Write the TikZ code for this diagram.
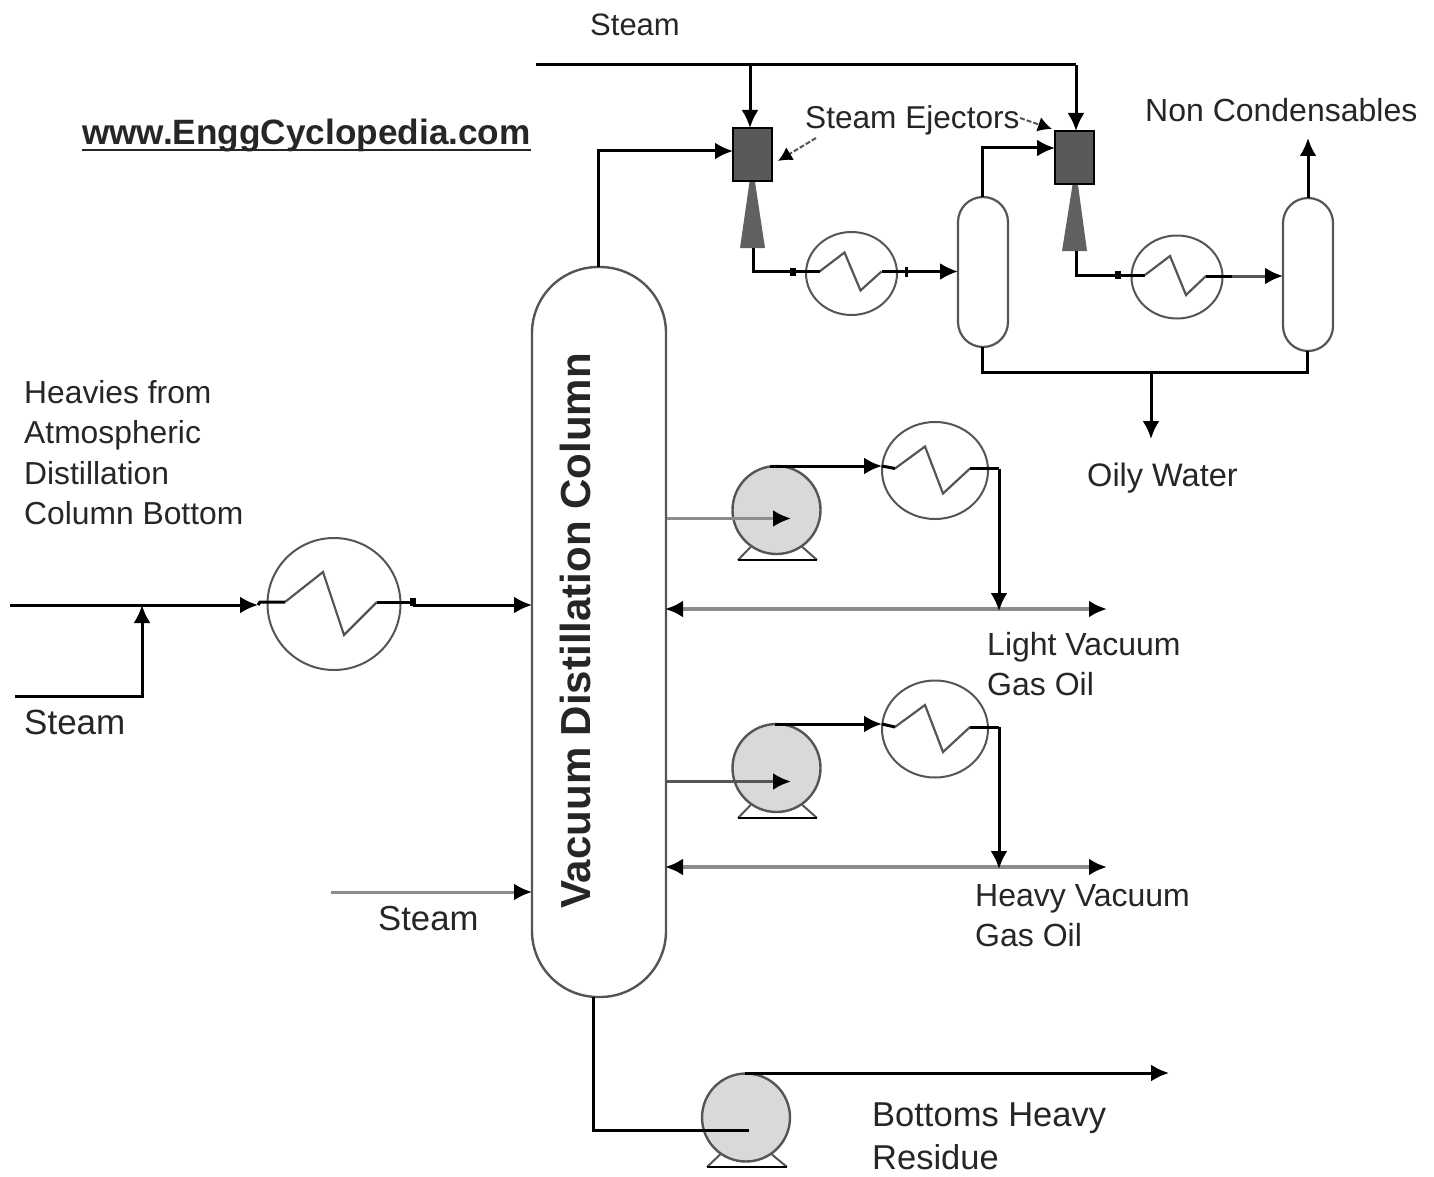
\documentclass[tikz,border=0pt]{standalone}
\usepackage{fontspec}
\setmainfont{Liberation Sans}
\usetikzlibrary{arrows.meta,shapes.geometric}
\definecolor{ink}{HTML}{262626}
\definecolor{edge}{HTML}{555555}
\definecolor{shaft}{HTML}{8C8C8C}
\tikzset{
  x=1pt,y=-1pt,
  flow/.style={line width=3pt,draw=black,line join=miter},
  tip/.style={flow,-{Latex[length=18pt,width=17pt]}},
  greyflow/.style={tip,draw=shaft,{-{Latex[length=18pt,width=17pt,color=black]}}},
  edgeflow/.style={tip,draw=edge,{-{Latex[length=18pt,width=17pt,color=black]}}},
  twoway/.style={line width=3.6pt,draw=shaft,{Latex[length=18pt,width=17pt,color=black]}-{Latex[length=18pt,width=17pt,color=black]}},
  vessel/.style={draw=edge,line width=2.2pt,fill=white,rectangle,inner sep=0pt,minimum width=50pt,rounded corners=25pt},
  column/.style={draw=edge,line width=2.4pt,fill=white,rectangle,inner sep=0pt,minimum width=134pt,minimum height=730pt,rounded corners=66pt},
  hx/.style={draw=edge,line width=2pt,fill=white,ellipse,inner sep=0pt},
  zig/.style={draw=edge,line width=2.2pt,line join=miter},
  pump/.style={draw=edge,line width=2.4pt,fill=black!15,circle,inner sep=0pt,minimum size=88pt},
  ejector/.style={draw=black,line width=2.4pt,fill=black!65,rectangle,inner sep=0pt,minimum width=39pt,minimum height=53pt},
  nozzle/.style={draw=none,fill=black!62},
  base/.style={line width=2.6pt,draw=black},
  leg/.style={line width=2pt,draw=edge},
  port/.style={fill=black,rectangle,inner sep=0pt,minimum width=6pt,minimum height=8pt},
  pointer/.style={line width=2pt,draw=edge,dash pattern=on 5pt off 2pt,-{Latex[length=14pt,width=15pt,color=black]}},
  label/.style={font=\fontsize{32}{37}\selectfont,text=ink,inner sep=0pt,anchor=west,align=left},
  small/.style={label,anchor=north west,font=\fontsize{32}{40}\selectfont},
}
\begin{document}
\begin{tikzpicture}
\useasboundingbox (0,0) rectangle (1434,1177);
\fill[white] (0,0) rectangle (1434,1177);

% Main equipment
\node[column] (col) at (599,632) {};
\node[font=\bfseries\fontsize{42}{44}\selectfont,text=ink,rotate=90,inner sep=0pt] (collabel) at (575,631) {Vacuum Distillation Column};

\node[hx,minimum width=133pt,minimum height=132pt] (hxfeed) at (334,604) {};
\node[hx,minimum width=91pt,minimum height=83pt] (hxa) at (851.5,273.5) {};
\node[hx,minimum width=91pt,minimum height=83pt] (hxb) at (1177,277) {};
\node[hx,minimum width=106pt,minimum height=97pt] (hxc) at (935,470.5) {};
\node[hx,minimum width=106pt,minimum height=97pt] (hxd) at (935,729) {};

\node[vessel,minimum height=150pt] (va) at (983,272) {};
\node[vessel,minimum height=153pt] (vb) at (1308,274.5) {};

\node[ejector] (eja) at (752.5,154.5) {};
\node[ejector] (ejb) at (1074.5,157.5) {};
\node[pump] (pa) at (776.5,510) {};
\node[pump] (pb) at (776.5,768) {};
\node[pump] (pc) at (746,1117.5) {};

% Nozzles
\fill[nozzle] (749.5,182) -- (755,182) -- (765,248) -- (740,248) -- cycle;
\fill[nozzle] (1072.5,185) -- (1078,185) -- (1087,251) -- (1062,251) -- cycle;

% Exchanger coils
\draw[zig,shift={(hxfeed.center)}] (-49,-2) -- (-11,-32) -- (10,31) -- (43,-2);
\draw[zig,shift={(hxa.center)}] (-32,-2) -- (-7,-21) -- (9,17) -- (30,-2);
\draw[zig,shift={(hxb.center)}] (-32,-2) -- (-7,-21) -- (9,18) -- (29,-1);
\draw[zig,shift={(hxc.center)}] (-40,-2) -- (-10,-24) -- (8,23) -- (35,-2);
\draw[zig,shift={(hxd.center)}] (-40,-2) -- (-10,-24) -- (8,23) -- (35,-2);

% Pump feet
\draw[leg] (pa.-125) -- (738,560); \draw[leg] (pa.-55) -- (817,560);
\draw[base] (738,560) -- (817,560);
\draw[leg] (pb.-125) -- (738,818); \draw[leg] (pb.-55) -- (817,818);
\draw[base] (738,818) -- (817,818);
\draw[leg] (pc.-125) -- (707,1167); \draw[leg] (pc.-55) -- (787,1167);
\draw[base] (707,1167) -- (787,1167);

% Connection points
\coordinate (feedstart) at (10,605);
\coordinate (feedarrow) at (258,605);
\coordinate (hxfeedin) at (285,602);
\coordinate (hxfeedout) at (377,602);
\coordinate (feedjog) at (413,602);
\coordinate (feedjogb) at (413,605);
\coordinate (colfeed) at (532,605);
\coordinate (steama) at (15,696);
\coordinate (steamabend) at (142,696);
\coordinate (steamatip) at (142,605);
\coordinate (steamb) at (331,892);
\coordinate (colsteam) at (532,892);
\coordinate (steamhead) at (536,65);
\coordinate (steamtee) at (750,65);
\coordinate (steamend) at (1076,65);
\coordinate (ejatop) at (750,128);
\coordinate (ejbtop) at (1076,131);
\coordinate (coltop) at (598,267);
\coordinate (ejain) at (733,151);
\coordinate (ejbin) at (1055,148);
\coordinate (vatop) at (982,197);
\coordinate (noza) at (753,248);
\coordinate (hxain) at (819.5,271.5);
\coordinate (hxaout) at (881.5,271.5);
\coordinate (vain) at (958,271.5);
\coordinate (nozb) at (1076,251);
\coordinate (hxbin) at (1145,275);
\coordinate (hxbout) at (1206,276);
\coordinate (hxbexit) at (1232,276);
\coordinate (vbin) at (1283,276);
\coordinate (vbtop) at (1308,198);
\coordinate (noncond) at (1308,138);
\coordinate (vabot) at (982,347);
\coordinate (vbbot) at (1307,351);
\coordinate (drain) at (982,372);
\coordinate (draintee) at (1151,372);
\coordinate (drainend) at (1151,439);
\coordinate (colside1) at (667,518.5);
\coordinate (pa1) at (791,518.5);
\coordinate (paout) at (770,466);
\coordinate (hxcnear) at (882,466);
\coordinate (hxcin) at (895,468.5);
\coordinate (hxcout) at (970,468.5);
\coordinate (lvdrop) at (999,468.5);
\coordinate (lvend) at (999,611);
\coordinate (lvl) at (665,609);
\coordinate (lvr) at (1107,609);
\coordinate (colside2) at (667,781.5);
\coordinate (pb1) at (791,781.5);
\coordinate (pbout) at (775,724);
\coordinate (hxdnear) at (882,724);
\coordinate (hxdin) at (895,727);
\coordinate (hxdout) at (970,727);
\coordinate (hvdrop) at (999,727);
\coordinate (hvend) at (999,869);
\coordinate (hvl) at (665,867);
\coordinate (hvr) at (1107,867);
\coordinate (colbot) at (593,997);
\coordinate (bottombend) at (593,1130);
\coordinate (pcin) at (749,1130);
\coordinate (pcout) at (745,1073);
\coordinate (resid) at (1169,1073);
\coordinate (lblejaa) at (816,138);
\coordinate (lblejab) at (778,161);
\coordinate (lblejba) at (1020,118);
\coordinate (lblejbb) at (1052,129);

% Feed train
\draw[tip] (feedstart) -- (feedarrow);
\draw[flow] (feedarrow) -- (260,602) -- (hxfeedin);
\draw[flow] (hxfeedout) -- (feedjog) -- (feedjogb);
\draw[tip] (feedjogb) -- (colfeed);
\node[port] (feedport) at (feedjog) {};
\draw[tip] (steama) -- (steamabend) -- (steamatip);
\draw[greyflow] (steamb) -- (colsteam);

% Steam header and ejector train
\draw[flow] (steamhead) -- (steamend);
\draw[tip] (steamtee) -- (ejatop);
\draw[tip] (steamend) -- (ejbtop);
\draw[tip] (coltop) |- (ejain);
\draw[tip] (vatop) |- (ejbin);
\draw[flow] (noza) |- (hxain);
\node[port] (porta) at (793,271.5) {};
\draw[tip] (hxaout) -- (vain);
\node[port,minimum width=3pt,minimum height=10pt] (portb) at (906,271.5) {};
\draw[flow] (nozb) |- (hxbin);
\node[port] (portc) at (1118,275) {};
\draw[flow] (hxbout) -- (hxbexit);
\draw[edgeflow] (hxbexit) -- (vbin);
\draw[tip] (vbtop) -- (noncond);
\draw[flow] (vabot) |- (drain) -- (draintee) -| (vbbot);
\draw[tip] (draintee) -- (drainend);

% Side draws
\draw[greyflow] (colside1) -- (pa1);
\draw[tip] (paout) -- (hxcnear);
\draw[flow] (hxcnear) -- (hxcin);
\draw[flow] (hxcout) -- (lvdrop);
\draw[twoway] (lvl) -- (lvr);
\draw[tip] (lvdrop) -- (lvend);
\draw[edgeflow] (colside2) -- (pb1);
\draw[tip] (pbout) -- (hxdnear);
\draw[flow] (hxdnear) -- (hxdin);
\draw[flow] (hxdout) -- (hvdrop);
\draw[twoway] (hvl) -- (hvr);
\draw[tip] (hvdrop) -- (hvend);

% Bottoms
\draw[flow] (colbot) -- (bottombend) -- (pcin);
\draw[tip] (pcout) -- (resid);

% Ejector pointers
\draw[pointer] (lblejaa) -- (lblejab);
\draw[pointer] (lblejba) -- (lblejbb);

% Labels
\node[label,font=\fontsize{31}{37}\selectfont] (t1) at (590,25) {Steam};
\node[label,font=\bfseries\fontsize{35.2}{37}\selectfont] (url) at (82,135) {www.EnggCyclopedia.com};
\coordinate (urlline) at (82,150);
\draw[line width=2.4pt,draw=ink] (urlline) -- (url.east |- urlline);
\node[label,font=\fontsize{31.6}{37}\selectfont] (t2) at (805,120) {Steam Ejectors};
\node[label] (t3) at (1145,110) {Non Condensables};
\node[label,font=\fontsize{32.5}{37}\selectfont] (t4) at (1087,478) {Oily Water};
\node[small,font=\fontsize{31.8}{40.5}\selectfont] (t5) at (24,380) {Heavies from\\Atmospheric\\Distillation\\Column Bottom};
\node[label,font=\fontsize{35}{37}\selectfont] (t6) at (24,722) {Steam};
\node[label,font=\fontsize{34.7}{37}\selectfont] (t7) at (378,919) {Steam};
\node[small] (t8) at (987,632) {Light Vacuum\\Gas Oil};
\node[small] (t9) at (975,884) {Heavy Vacuum\\Gas Oil};
\node[small,font=\fontsize{34.5}{43}\selectfont] (t10) at (872,1103) {Bottoms Heavy\\Residue};
\end{tikzpicture}
\end{document}
